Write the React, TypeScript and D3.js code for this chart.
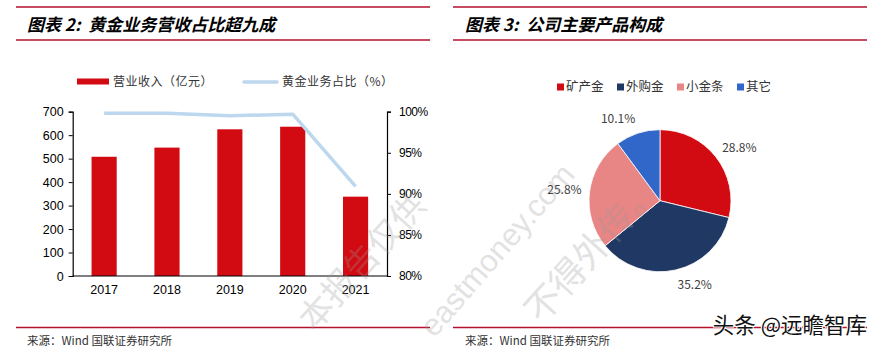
import React, { useEffect, useRef } from 'react';
import * as d3 from 'd3';

// 图表2 数据
const years = ['2017', '2018', '2019', '2020', '2021'];
const revenue = [508, 547, 625, 636, 338]; // 营业收入（亿元）
const goldShare = [99.8, 99.8, 99.5, 99.7, 90.9]; // 黄金业务占比（%）
const leftTicks = [0, 100, 200, 300, 400, 500, 600, 700];
const rightTicks = [80, 85, 90, 95, 100];

// 图表3 数据
const productNames = ['矿产金', '外购金', '小金条', '其它'];
const productShares = [28.8, 35.2, 25.8, 10.1];

const RED = '#D20A11';
const LINE_BLUE = '#BDD7EE';
const pieColors = ['#D20A11', '#203864', '#E88585', '#3167C9'];

const W = 879;
const H = 351;
const CJK = '"Noto Sans CJK SC", sans-serif';
const LATIN = '"Liberation Sans", Arial, sans-serif';

const App: React.FC = () => {
  const svgRef = useRef<SVGSVGElement>(null);

  useEffect(() => {
    const svg = d3.select(svgRef.current);
    svg.selectAll('*').remove();

    svg.append('rect').attr('width', W).attr('height', H).attr('fill', '#fff');

    // ---- header / footer rules ----
    const panels = [
      { x0: 16, x1: 430, title: '图表 2:  黄金业务营收占比超九成', tx: 27 },
      { x0: 453, x1: 867, title: '图表 3:  公司主要产品构成', tx: 465 },
    ];
    panels.forEach(p => {
      [7, 40, 327.5].forEach(y => {
        svg.append('line')
          .attr('x1', p.x0).attr('x2', p.x1)
          .attr('y1', y).attr('y2', y)
          .attr('stroke', '#B5102E')
          .attr('stroke-width', 1.3);
      });
      svg.append('text')
        .attr('x', p.tx).attr('y', 25)
        .attr('dy', '0.35em')
        .style('font-family', CJK)
        .style('font-size', '17px')
        .style('font-weight', 'bold')
        .style('font-style', 'italic')
        .style('white-space', 'pre')
        .style('fill', '#000')
        .text(p.title);
      svg.append('text')
        .attr('x', p.tx).attr('y', 341)
        .attr('dy', '0.35em')
        .style('font-family', CJK)
        .style('font-size', '11.5px')
        .style('fill', '#333')
        .text('来源：Wind 国联证券研究所');
    });

    // ---- left: bar + line chart ----
    const x0 = 72.7, x1 = 387, yTop = 111.7, yBot = 276;
    const x = d3.scaleBand<string>()
      .domain(years)
      .range([x0, x1])
      .paddingInner(0.6)
      .paddingOuter(0.3);
    const yL = d3.scaleLinear().domain([0, 700]).range([yBot, yTop]);
    const yR = d3.scaleLinear().domain([80, 100]).range([yBot, yTop]);

    const g = svg.append('g');

    g.selectAll('rect.bar')
      .data(revenue)
      .enter()
      .append('rect')
      .attr('class', 'bar')
      .attr('x', (d, i) => x(years[i]) as number)
      .attr('width', x.bandwidth())
      .attr('y', d => yL(d))
      .attr('height', d => yBot - yL(d))
      .attr('fill', RED);

    const line = d3.line<number>()
      .x((d, i) => (x(years[i]) as number) + x.bandwidth() / 2)
      .y(d => yR(d));
    g.append('path')
      .datum(goldShare)
      .attr('fill', 'none')
      .attr('stroke', LINE_BLUE)
      .attr('stroke-width', 3.5)
      .attr('stroke-linejoin', 'round')
      .attr('d', line);

    // axes
    const axisL = g.append('g')
      .attr('transform', `translate(${x0},0)`)
      .call(d3.axisLeft(yL).tickValues(leftTicks).tickSize(4).tickPadding(5));
    const axisR = g.append('g')
      .attr('transform', `translate(${x1},0)`)
      .call(d3.axisRight(yR).tickValues(rightTicks).tickSize(4).tickPadding(8).tickFormat(d => `${d}%`));
    const axisB = g.append('g')
      .attr('transform', `translate(0,${yBot})`)
      .call(d3.axisBottom(x).tickSize(0).tickPadding(9));

    [axisL, axisR, axisB].forEach(a => {
      a.select('.domain').attr('stroke', '#000').attr('stroke-width', 1.2);
      a.selectAll('.tick line').attr('stroke', '#000');
      a.selectAll('text')
        .style('font-family', LATIN)
        .style('font-size', '12.5px')
        .style('fill', '#000');
    });
    axisB.select('.domain').attr('d', `M${x0},0H${x1}`);
    axisR.selectAll('text').style('font-size', '12px').style('letter-spacing', '-0.5px');

    // legend
    const lg = svg.append('g');
    lg.append('rect')
      .attr('x', 77).attr('y', 78.5).attr('width', 32).attr('height', 6)
      .attr('fill', RED);
    lg.append('text')
      .attr('x', 113).attr('y', 82)
      .attr('dy', '0.35em')
      .style('font-family', CJK).style('font-size', '12px')
      .style('letter-spacing', '0.5px')
      .style('fill', '#333')
      .text('营业收入（亿元）');
    lg.append('line')
      .attr('x1', 244).attr('x2', 277).attr('y1', 82).attr('y2', 82)
      .attr('stroke', LINE_BLUE).attr('stroke-width', 3.5).attr('stroke-linecap', 'round');
    lg.append('text')
      .attr('x', 282).attr('y', 82)
      .attr('dy', '0.35em')
      .style('font-family', CJK).style('font-size', '12px')
      .style('letter-spacing', '0.5px')
      .style('fill', '#333')
      .text('黄金业务占比（%）');

    // ---- right: pie ----
    const cx = 660, cy = 200.7, r = 71;
    const pie = d3.pie<number>().sort(null).value(d => d);
    const arcs = pie(productShares);
    const arc = d3.arc<d3.PieArcDatum<number>>().innerRadius(0).outerRadius(r);
    const pg = svg.append('g').attr('transform', `translate(${cx},${cy})`);
    pg.selectAll('path')
      .data(arcs)
      .enter()
      .append('path')
      .attr('d', arc)
      .attr('fill', (d, i) => pieColors[i])
      .attr('stroke', '#fff')
      .attr('stroke-width', 0.8);

    arcs.forEach((a, i) => {
      const mid = (a.startAngle + a.endAngle) / 2;
      const s = Math.sin(mid), c = Math.cos(mid);
      const rr = r + 8;
      pg.append('text')
        .attr('x', rr * s)
        .attr('y', -rr * c - c * 7)
        .attr('dy', '0.35em')
        .attr('text-anchor', s >= 0 ? 'start' : 'end')
        .style('font-family', CJK)
        .style('font-size', '12px')
        .style('fill', '#404040')
        .text(`${d3.format('.1f')(productShares[i])}%`);
    });

    // pie legend
    const legX = [557, 617, 677, 737];
    productNames.forEach((name, i) => {
      svg.append('rect')
        .attr('x', legX[i]).attr('y', 83.5).attr('width', 7).attr('height', 7)
        .attr('fill', pieColors[i]);
      svg.append('text')
        .attr('x', legX[i] + 9).attr('y', 87)
        .attr('dy', '0.35em')
        .style('font-family', CJK).style('font-size', '12.5px')
        .style('fill', '#333')
        .text(name);
    });

    // ---- watermarks ----
    const wm = [
      { t: '本报告仅供', x: 362, y: 262, a: -48, s: 34, f: CJK },
      { t: 'eastmoney.com', x: 497, y: 250, a: -49, s: 31, f: LATIN },
      { t: '不得外传。', x: 592, y: 250, a: -48, s: 36, f: CJK },
    ];
    wm.forEach(w => {
      svg.append('text')
        .attr('transform', `translate(${w.x},${w.y}) rotate(${w.a})`)
        .attr('text-anchor', 'middle')
        .attr('dy', '0.35em')
        .style('font-family', w.f)
        .style('font-size', `${w.s}px`)
        .style('fill', '#9a9a9a')
        .style('opacity', 0.28)
        .text(w.t);
    });

    svg.append('text')
      .attr('x', 867).attr('y', 325)
      .attr('dy', '0.35em')
      .attr('text-anchor', 'end')
      .style('font-family', CJK)
      .style('font-size', '21.5px')
      .style('fill', '#111')
      .style('stroke', '#fff')
      .style('stroke-width', 2)
      .style('paint-order', 'stroke')
      .text('头条 @远瞻智库');
  }, []);

  return (
    <svg
      ref={svgRef}
      width={W}
      height={H}
      style={{ position: 'absolute', left: 0, top: 0 }}
    />
  );
};

export default App;
